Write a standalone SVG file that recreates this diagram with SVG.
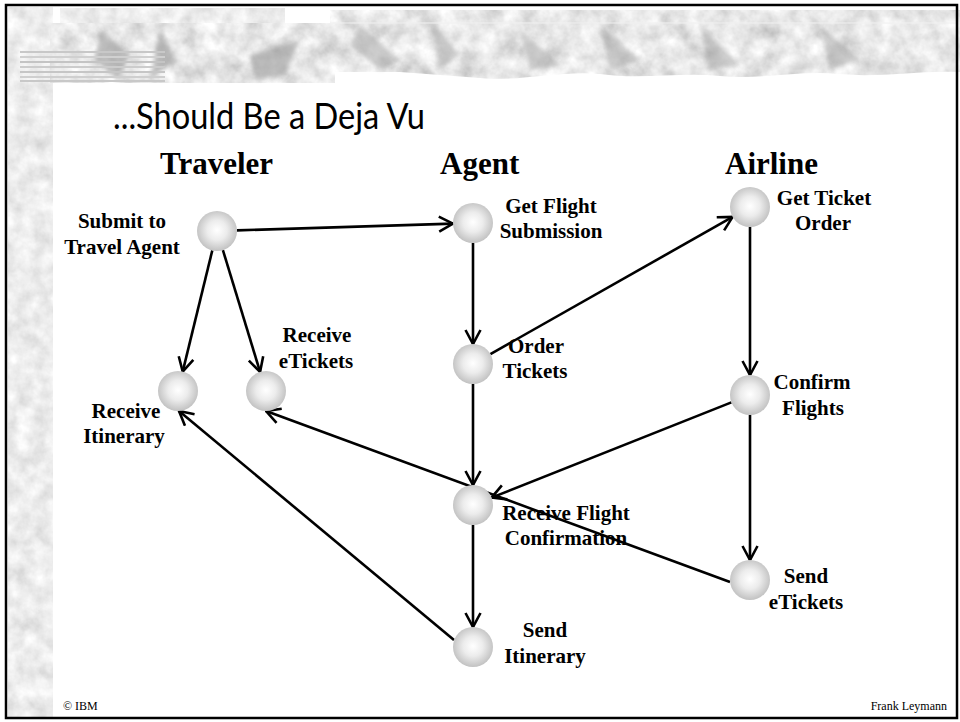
<svg xmlns="http://www.w3.org/2000/svg" width="960" height="722" viewBox="0 0 960 722">
<defs>
<filter id="texLight" x="0" y="0" width="100%" height="100%">
<feTurbulence type="fractalNoise" baseFrequency="0.06" numOctaves="4" seed="3" result="n"/>
<feColorMatrix in="n" type="matrix" values="0.45 0 0 0 0.62  0.45 0 0 0 0.62  0.45 0 0 0 0.62  0 0 0 0 1" result="g"/>
<feComposite in="g" in2="SourceGraphic" operator="in"/>
</filter>
<filter id="texMid" x="0" y="0" width="100%" height="100%">
<feTurbulence type="fractalNoise" baseFrequency="0.05" numOctaves="4" seed="7" result="n"/>
<feColorMatrix in="n" type="matrix" values="0.65 0 0 0 0.48  0.65 0 0 0 0.48  0.65 0 0 0 0.48  0 0 0 0 1" result="g"/>
<feComposite in="g" in2="SourceGraphic" operator="in"/>
</filter>
<filter id="blur"><feGaussianBlur stdDeviation="2"/></filter>
<radialGradient id="ball" cx="50%" cy="48%" r="55%">
<stop offset="0" stop-color="#ffffff"/>
<stop offset="0.45" stop-color="#ececec"/>
<stop offset="1" stop-color="#bdbdbd"/>
</radialGradient>
<marker id="arr" viewBox="0 0 16 18" refX="15" refY="9" markerWidth="16" markerHeight="18" markerUnits="userSpaceOnUse" orient="auto">
<path d="M1,1.5 L15,9 L1,16.5" fill="none" stroke="#000" stroke-width="2.6"/>
</marker>
</defs>
<style>
.node circle{fill:url(#ball)}
.lbl{font-family:"Liberation Serif","Times New Roman",serif;font-weight:bold;font-size:21px;fill:#000;text-anchor:middle}
.hdr{font-family:"Liberation Serif","Times New Roman",serif;font-weight:bold;font-size:31px;fill:#000}
.foot{font-family:"Liberation Serif","Times New Roman",serif;font-size:12px;fill:#000}
.edge{stroke:#000;stroke-width:2.6;fill:none;marker-end:url(#arr)}
</style>
<rect x="0" y="0" width="960" height="722" fill="#ffffff"/>
<g id="background">
<rect x="8" y="7" width="45" height="711" fill="#000" filter="url(#texLight)"/>
<rect x="60" y="8" width="225" height="16" fill="#000" filter="url(#texLight)"/>
<rect x="50" y="23" width="285" height="60" fill="#000" filter="url(#texMid)"/>
<g filter="url(#blur)" fill="#9a9a9a" opacity="0.6">
<path d="M100,30 L130,55 L118,80 L95,60 Z"/>
<path d="M160,28 L175,60 L150,80 Z"/>
<path d="M250,55 L300,40 L285,75 L255,80 Z"/>
</g>
<g stroke-width="2">
<line x1="20" y1="52" x2="165" y2="52" stroke="#c8c8c8"/>
<line x1="20" y1="57" x2="165" y2="57" stroke="#d0d0d0"/>
<line x1="20" y1="62" x2="165" y2="62" stroke="#c4c4c4"/>
<line x1="20" y1="67" x2="165" y2="67" stroke="#cccccc"/>
<line x1="20" y1="72" x2="165" y2="72" stroke="#c6c6c6"/>
<line x1="20" y1="77" x2="165" y2="77" stroke="#cfcfcf"/>
<line x1="20" y1="81" x2="165" y2="81" stroke="#c8c8c8"/>
</g>
<path d="M330,10 L960,10 L960,72 C920,70 880,78 840,74 C800,70 760,80 720,76 C680,72 640,80 600,74 C560,70 520,82 480,78 L400,72 L330,72 Z" fill="#000" filter="url(#texMid)"/>
<g filter="url(#blur)" fill="#a0a0a0" opacity="0.5">
<path d="M360,25 L400,60 L380,70 L350,45 Z"/>
<path d="M430,20 L460,55 L440,68 Z"/>
<path d="M520,30 L560,65 L530,70 Z"/>
<path d="M600,25 L640,60 L610,70 Z"/>
<path d="M700,25 L740,65 L710,70 Z"/>
<path d="M820,25 L860,60 L830,70 Z"/>
</g>
<line x1="330" y1="23" x2="960" y2="23" stroke="#f0f0f0" stroke-width="1"/>
</g>
<rect x="6" y="5" width="951" height="713" fill="none" stroke="#000" stroke-width="2.5"/>
<text x="113" y="129" font-family="Lato,'DejaVu Sans',sans-serif" font-size="37" textLength="312" lengthAdjust="spacingAndGlyphs" fill="#000">...Should Be a Deja Vu</text>
<text class="hdr" x="160" y="174">Traveler</text>
<text class="hdr" x="440" y="174">Agent</text>
<text class="hdr" x="725" y="174">Airline</text>
<g id="connectors">
<line class="edge" x1="237" y1="230.4" x2="453" y2="223.6"/>
<line class="edge" x1="212.3" y1="250.4" x2="182.7" y2="371.6"/>
<line class="edge" x1="222.9" y1="250.1" x2="260.1" y2="371.9"/>
<line class="edge" x1="473" y1="243" x2="473" y2="344"/>
<line class="edge" x1="490.4" y1="354.1" x2="732.6" y2="216.9"/>
<line class="edge" x1="473" y1="384" x2="473" y2="485"/>
<line class="edge" x1="750" y1="227" x2="750" y2="375"/>
<line class="edge" x1="731.4" y1="402.4" x2="491.6" y2="497.6"/>
<line class="edge" x1="750" y1="415" x2="750" y2="560"/>
<line class="edge" x1="730" y1="582" x2="266" y2="411"/>
<line class="edge" x1="454" y1="640" x2="179" y2="411"/>
<line class="edge" x1="473" y1="525" x2="473" y2="627"/>
</g>
<g id="n-submit" class="node"><circle cx="217" cy="231" r="20"/><text class="lbl" x="122" y="228">Submit to</text><text class="lbl" x="122" y="254">Travel Agent</text></g>
<g id="n-getflight" class="node"><circle cx="473" cy="223" r="20"/><text class="lbl" x="551" y="213">Get Flight</text><text class="lbl" x="551" y="238">Submission</text></g>
<g id="n-getticket" class="node"><circle cx="750" cy="207" r="20"/><text class="lbl" x="824" y="205">Get Ticket</text><text class="lbl" x="823" y="230">Order</text></g>
<g id="n-order" class="node"><circle cx="473" cy="364" r="20"/><text class="lbl" x="536" y="353">Order</text><text class="lbl" x="535" y="378">Tickets</text></g>
<g id="n-confirm" class="node"><circle cx="750" cy="395" r="20"/><text class="lbl" x="812" y="389">Confirm</text><text class="lbl" x="813" y="415">Flights</text></g>
<g id="n-recvitin" class="node"><circle cx="178" cy="391" r="20"/><text class="lbl" x="126" y="418">Receive</text><text class="lbl" x="124" y="443">Itinerary</text></g>
<g id="n-recvetix" class="node"><circle cx="266" cy="391" r="20"/><text class="lbl" x="317" y="342">Receive</text><text class="lbl" x="316" y="368">eTickets</text></g>
<g id="n-recvflight" class="node"><circle cx="473" cy="505" r="20"/><text class="lbl" x="566" y="520">Receive Flight</text><text class="lbl" x="566" y="545">Confirmation</text></g>
<g id="n-sendetix" class="node"><circle cx="750" cy="580" r="20"/><text class="lbl" x="806" y="583">Send</text><text class="lbl" x="806" y="609">eTickets</text></g>
<g id="n-senditin" class="node"><circle cx="473" cy="647" r="20"/><text class="lbl" x="545" y="637">Send</text><text class="lbl" x="545" y="663">Itinerary</text></g>
<text class="foot" x="63" y="710">© IBM</text>
<text class="foot" x="947" y="710" text-anchor="end" font-size="11.5">Frank Leymann</text>
</svg>
